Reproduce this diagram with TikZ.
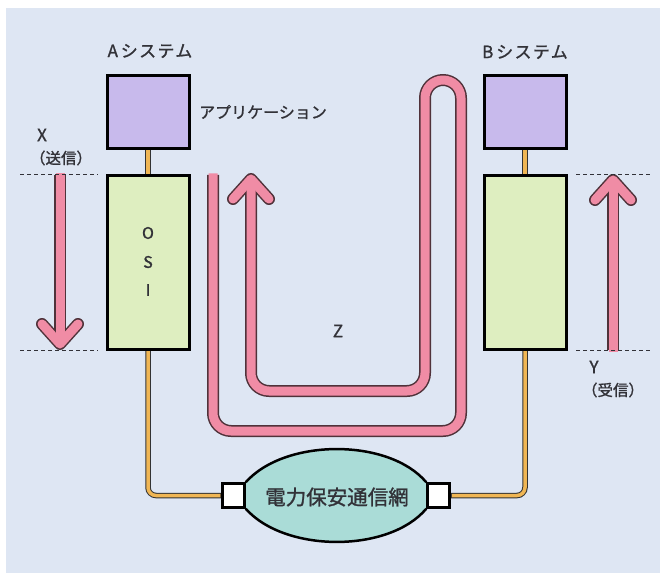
\documentclass[tikz,border=0pt]{standalone}
\usepackage{fontspec}
\setmainfont{Noto Sans CJK JP}
\newfontfamily\lblfont{Noto Sans CJK JP}[FakeBold=1.2]
\newfontfamily\lblwide{Noto Sans CJK JP}[FakeBold=1.2,LetterSpace=8]
\definecolor{bgpanel}{RGB}{222,230,243}
\definecolor{appfill}{RGB}{200,186,236}
\definecolor{osifill}{RGB}{222,238,192}
\definecolor{pinkc}{RGB}{240,140,165}
\definecolor{pinkline}{RGB}{80,50,58}
\definecolor{orangec}{RGB}{240,182,84}
\definecolor{tealc}{RGB}{170,220,215}
\definecolor{txt}{RGB}{50,50,56}
\begin{document}
\begin{tikzpicture}[x=1pt,y=-1pt,
  appbox/.style={draw=black,line width=3pt,fill=appfill,minimum width=82pt,minimum height=73pt,inner sep=0pt},
  osibox/.style={draw=black,line width=3pt,fill=osifill,minimum width=82pt,minimum height=174pt,inner sep=0pt},
  portbox/.style={draw=black,line width=2.5pt,fill=white,minimum width=22pt,minimum height=24pt,inner sep=0pt},
  lbl/.style={text=txt,inner sep=0pt,font=\lblfont\fontsize{16}{18}\selectfont},
  wireout/.style={draw=black!80,line width=5.5pt,rounded corners=8pt},
  wirein/.style={draw=orangec,line width=3.5pt,rounded corners=8pt},
  pout/.style={draw=pinkline,line width=12pt,line join=round},
  pin/.style={draw=pinkc,line width=9pt,line join=round},
  guide/.style={draw=txt,line width=1pt,dash pattern=on 4pt off 3pt}
]
\useasboundingbox (0,0) rectangle (662,575);
\fill[white] (0,0) rectangle (662,575);
\fill[bgpanel] (6,8) rectangle (660,573);

% coordinates for the pink paths
\coordinate (s0) at (213,175);
\coordinate (s1) at (213,431);
\coordinate (s2) at (461,431);
\coordinate (s3) at (461,80);
\coordinate (s4) at (425,80);
\coordinate (s5) at (425,391);
\coordinate (s6) at (251,391);
\coordinate (s7) at (251,183);
\coordinate (m1) at (233,199);
\coordinate (m2) at (251,179);
\coordinate (m3) at (269,199);
\coordinate (l0) at (60,175);
\coordinate (l1) at (60,339);
\coordinate (la) at (42,324);
\coordinate (lb) at (60,344);
\coordinate (lc) at (78,324);
\coordinate (r0) at (613,350);
\coordinate (r1) at (613,185);
\coordinate (ra) at (595,200);
\coordinate (rb) at (613,180);
\coordinate (rc) at (631,200);

% pink outlines
\draw[pout,rounded corners=18pt,line cap=butt] (s0) -- (s1) -- (s2) -- (s3) -- (s4) -- (s5) -- (s6) -- (s7);
\draw[pout,line cap=round] (m1) -- (m2) -- (m3);
\draw[pout,line cap=butt] (l0) -- (l1);
\draw[pout,line cap=round] (la) -- (lb) -- (lc);
\draw[pout,line cap=butt] (r0) -- (r1);
\draw[pout,line cap=round] (ra) -- (rb) -- (rc);
% pink fills
\draw[pin,rounded corners=18pt,line cap=butt] ([yshift=1.5pt]s0) -- (s1) -- (s2) -- (s3) -- (s4) -- (s5) -- (s6) -- (s7);
\draw[pin,line cap=round] (m1) -- (m2) -- (m3);
\draw[pin,line cap=butt] ([yshift=1.5pt]l0) -- (l1);
\draw[pin,line cap=round] (la) -- (lb) -- (lc);
\draw[pin,line cap=butt] ([yshift=-1.5pt]r0) -- (r1);
\draw[pin,line cap=round] (ra) -- (rb) -- (rc);

% dashed guides
\draw[guide] (20,175) -- (98,175);
\draw[guide] (20,350) -- (98,350);
\draw[guide] (576,175) -- (652,175);
\draw[guide] (576,350) -- (652,350);

% systems
\node[appbox] (appA) at (148,112.5) {};
\node[osibox] (osiA) at (148,262.5) {};
\node[appbox] (appB) at (525,112.5) {};
\node[osibox] (osiB) at (525,262.5) {};

% network
\node[portbox] (portL) at (233.5,495.5) {};
\node[portbox] (portR) at (438.5,495.5) {};
\fill[tealc] (portL.north east) .. controls (285,438) and (389,438) .. (portR.north west)
  -- (portR.south west) .. controls (389,553) and (285,553) .. (portL.south east) -- cycle;
\draw[black,line width=2.5pt] (portL.north east) .. controls (285,438) and (389,438) .. (portR.north west);
\draw[black,line width=2.5pt] (portL.south east) .. controls (285,553) and (389,553) .. (portR.south west);
\node[lbl,font=\lblfont\fontsize{20.5}{24}\selectfont] (net) at (337,497) {電力保安通信網};

% wires
\draw[black!80,line width=5.5pt] (appA.south) -- (osiA.north);
\draw[orangec,line width=3.5pt] ([yshift=1pt]appA.south) -- ([yshift=-1pt]osiA.north);
\draw[black!80,line width=5.5pt] (appB.south) -- (osiB.north);
\draw[orangec,line width=3.5pt] ([yshift=1pt]appB.south) -- ([yshift=-1pt]osiB.north);
\draw[wireout] (osiA.south) |- (portL.west);
\draw[wirein] ([yshift=1pt]osiA.south) |- ([xshift=-1pt]portL.west);
\draw[wireout] (osiB.south) |- (portR.east);
\draw[wirein] ([yshift=1pt]osiB.south) |- ([xshift=1pt]portR.east);
% redraw boxes over wire ends
\node[appbox] at (appA) {};
\node[osibox] at (osiA) {};
\node[appbox] at (appB) {};
\node[osibox] at (osiB) {};
\node[portbox] at (portL) {};
\node[portbox] at (portR) {};

% labels
\node[lbl,font=\lblwide\fontsize{17}{20}\selectfont] (tA) at (150,51) {A\,システム};
\node[lbl,font=\lblwide\fontsize{17}{20}\selectfont] (tB) at (525,52) {B\,システム};
\node[lbl] (tApp) at (263,112) {アプリケーション};
\node[lbl] (tO) at (148,233) {O};
\node[lbl] (tS) at (148,262) {S};
\node[lbl] (tI) at (148,290) {I};
\node[lbl,font=\lblfont\fontsize{17}{20}\selectfont] (tX) at (42,135) {X};
\node[lbl,font=\lblfont\fontsize{15.5}{17}\selectfont] (tXs) at (61,158) {（送信）};
\node[lbl,font=\lblfont\fontsize{17}{20}\selectfont] (tY) at (594,367) {Y};
\node[lbl,font=\lblfont\fontsize{15.5}{17}\selectfont] (tYr) at (613,390) {（受信）};
\node[lbl,font=\lblfont\fontsize{17}{20}\selectfont] (tZ) at (338,331) {Z};
\end{tikzpicture}
\end{document}
